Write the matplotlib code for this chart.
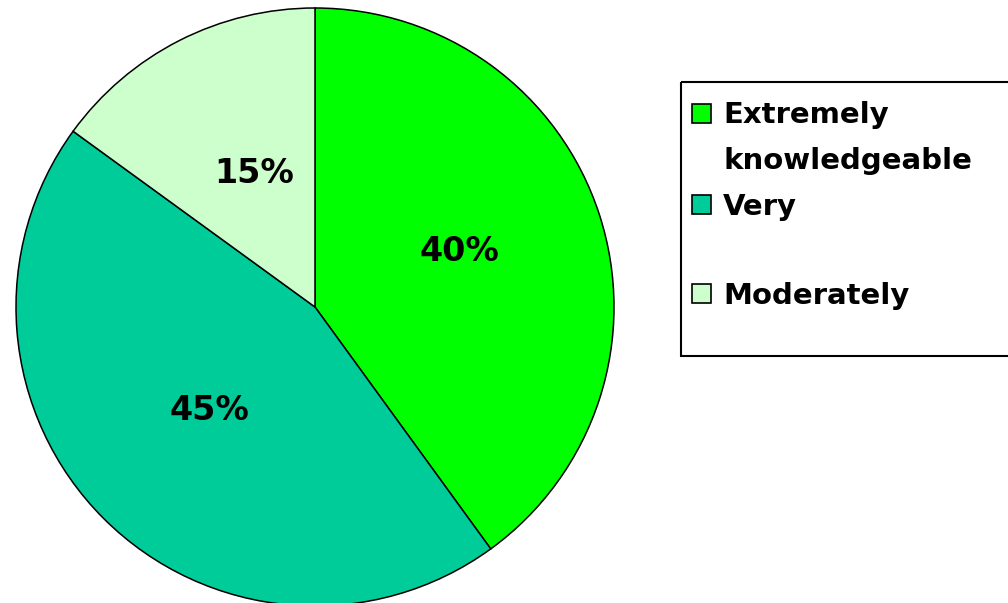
import matplotlib
matplotlib.use('Agg')
import matplotlib.pyplot as plt
from matplotlib.patches import Rectangle

# data
categories = ['Extremely\nknowledgeable', 'Very', 'Moderately']
shares = [40, 45, 15]
colors = ['#00FF00', '#00CC99', '#CCFFCC']

W, H = 1008, 603
plt.rcParams['font.family'] = ['DejaVu Sans']

fig = plt.figure(figsize=(W / 100, H / 100), dpi=100)

# pie axes in pixel coordinates (y up)
ax = fig.add_axes([0, 0, 1, 1])
wedges, texts, autotexts = ax.pie(
    shares, colors=colors, startangle=90, counterclock=False,
    center=(315, H - 307), radius=299,
    autopct='%.0f%%', pctdistance=0.5,
    wedgeprops=dict(edgecolor='black', linewidth=1.1),
    textprops=dict(fontsize=24, fontweight='bold', color='black'))
ax.set_xlim(0, W)
ax.set_ylim(0, H)
ax.set_aspect('equal')
ax.axis('off')

# small nudges of the percentage labels, as in the original
for t, (dx, dy) in zip(autotexts, [(2, 9), (0, 2), (7, 0)]):
    x, y = t.get_position()
    t.set_position((x + dx, y + dy))

# legend drawn by hand (markers aligned with the first line of each entry)
lg = fig.add_axes([0, 0, 1, 1])
lg.set_xlim(0, W)
lg.set_ylim(H, 0)
lg.axis('off')
lg.add_patch(Rectangle((681, 82), 400, 274, fill=False, edgecolor='black',
                       linewidth=1.5, clip_on=False))
marker_y = [124, 215, 304]
for label, color, y in zip(categories, colors, marker_y):
    lg.add_patch(Rectangle((692, y - 20), 19, 19, facecolor=color,
                           edgecolor='black', linewidth=1.2))
    nlines = label.count('\n')
    # baseline alignment uses the last line, so shift by the extra lines
    lg.text(723, y + 45 * nlines, label, fontsize=21, fontweight='bold',
            va='baseline', ha='left', linespacing=1.8)

fig.savefig('out.png', dpi=100)
